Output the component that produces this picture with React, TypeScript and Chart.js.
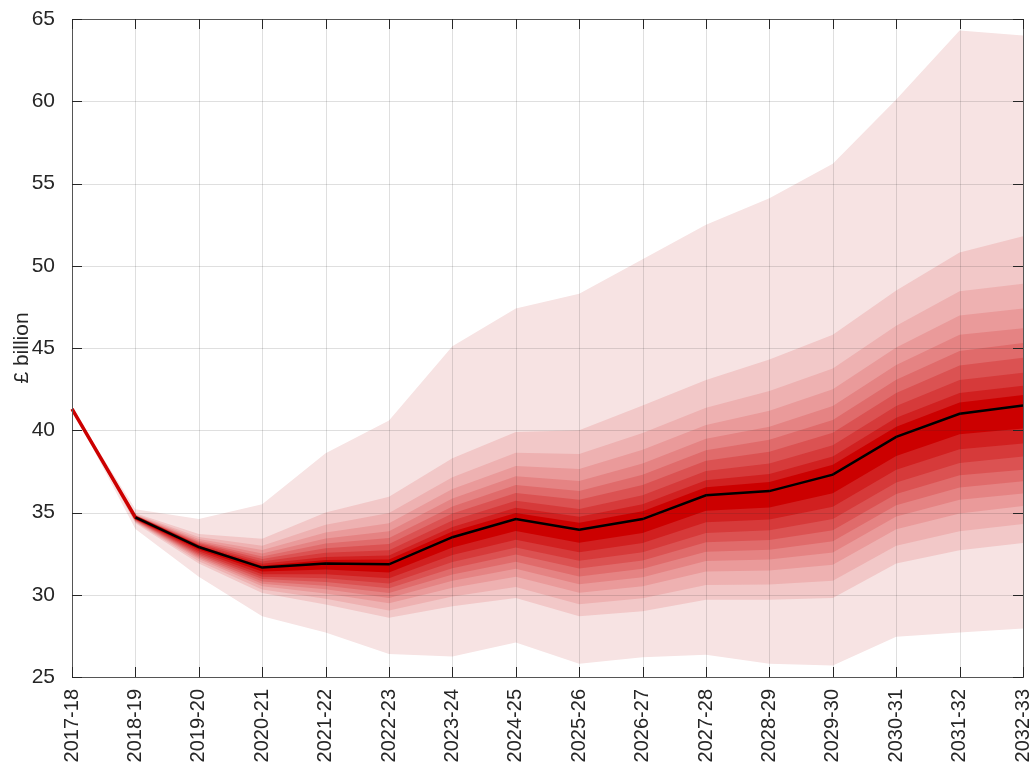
import React, { useEffect, useRef } from 'react';
import { Chart, registerables } from 'chart.js';

Chart.register(...registerables);

const years = ['2017-18', '2018-19', '2019-20', '2020-21', '2021-22', '2022-23', '2023-24', '2024-25', '2025-26', '2026-27', '2027-28', '2028-29', '2029-30', '2030-31', '2031-32', '2032-33'];

const outturn = [41.3, 34.7, 32.9, null, null, null, null, null, null, null, null, null, null, null, null, null];
const median = [null, 34.7, 32.9, 31.65, 31.9, 31.85, 33.5, 34.6, 33.95, 34.6, 36.05, 36.3, 37.3, 39.6, 41.0, 41.5];

// Upper band edges, outermost (hi1) to innermost (hi10)
const hi1 = [41.3, 35.2, 34.6, 35.5, 38.6, 40.6, 45.1, 47.4, 48.3, 50.4, 52.5, 54.1, 56.2, 60.1, 64.3, 64.0];
const hi2 = [41.3, 34.95, 33.7, 33.4, 35.0, 35.95, 38.3, 39.9, 40.0, 41.5, 43.05, 44.3, 45.8, 48.5, 50.8, 51.8];
const hi3 = [41.3, 34.89, 33.51, 32.98, 34.26, 34.97, 37.15, 38.63, 38.55, 39.84, 41.37, 42.38, 43.76, 46.36, 48.45, 48.9];
const hi4 = [41.3, 34.85, 33.39, 32.72, 33.79, 34.35, 36.43, 37.83, 37.64, 38.81, 40.32, 41.18, 42.49, 45.03, 46.98, 47.4];
const hi5 = [41.3, 34.82, 33.29, 32.51, 33.42, 33.86, 35.85, 37.2, 36.91, 37.98, 39.48, 40.22, 41.47, 43.96, 45.8, 46.2];
const hi6 = [41.3, 34.8, 33.21, 32.33, 33.11, 33.45, 35.37, 36.67, 36.31, 37.29, 38.78, 39.42, 40.62, 43.07, 44.82, 45.3];
const hi7 = [41.3, 34.78, 33.14, 32.18, 32.83, 33.08, 34.94, 36.19, 35.77, 36.67, 38.15, 38.7, 39.85, 42.27, 43.94, 44.4];
const hi8 = [41.3, 34.75, 33.07, 32.02, 32.55, 32.71, 34.51, 35.71, 35.22, 36.05, 37.52, 37.98, 39.09, 41.47, 43.06, 43.5];
const hi9 = [41.3, 34.73, 33.0, 31.88, 32.3, 32.38, 34.12, 35.29, 34.74, 35.5, 36.96, 37.34, 38.4, 40.76, 42.27, 42.7];
const hi10 = [41.3, 34.72, 32.96, 31.77, 32.12, 32.14, 33.84, 34.97, 34.37, 35.08, 36.54, 36.86, 37.9, 40.22, 41.69, 42.15];

// Lower band edges, outermost (lo1) to innermost (lo10)
const lo1 = [41.3, 34.0, 31.1, 28.7, 27.7, 26.4, 26.25, 27.1, 25.8, 26.2, 26.35, 25.8, 25.7, 27.45, 27.7, 27.95];
const lo2 = [41.3, 34.35, 31.9, 30.1, 29.4, 28.6, 29.3, 29.8, 28.7, 29.0, 29.7, 29.7, 29.8, 31.9, 32.7, 33.15];
const lo3 = [41.3, 34.4, 32.04, 30.32, 29.75, 29.05, 29.89, 30.47, 29.43, 29.78, 30.59, 30.62, 30.85, 32.98, 33.86, 34.3];
const lo4 = [41.3, 34.44, 32.17, 30.52, 30.08, 29.48, 30.43, 31.1, 30.12, 30.51, 31.41, 31.48, 31.82, 33.98, 34.94, 35.4];
const lo5 = [41.3, 34.48, 32.27, 30.67, 30.33, 29.8, 30.85, 31.58, 30.64, 31.07, 32.05, 32.14, 32.57, 34.75, 35.77, 36.15];
const lo6 = [41.3, 34.51, 32.36, 30.81, 30.55, 30.1, 31.23, 32.01, 31.11, 31.58, 32.62, 32.74, 33.25, 35.44, 36.52, 36.9];
const lo7 = [41.3, 34.54, 32.45, 30.95, 30.78, 30.39, 31.61, 32.44, 31.59, 32.08, 33.19, 33.33, 33.92, 36.13, 37.26, 37.6];
const lo8 = [41.3, 34.57, 32.54, 31.09, 31.0, 30.68, 31.99, 32.87, 32.06, 32.58, 33.76, 33.92, 34.6, 36.83, 38.01, 38.4];
const lo9 = [41.3, 34.61, 32.64, 31.25, 31.25, 31.0, 32.41, 33.35, 32.58, 33.14, 34.4, 34.58, 35.35, 37.6, 38.84, 39.2];
const lo10 = [41.3, 34.65, 32.75, 31.42, 31.53, 31.36, 32.87, 33.88, 33.16, 33.76, 35.1, 35.31, 36.17, 38.44, 39.75, 40.1];

const upperEdges = [hi1, hi2, hi3, hi4, hi5, hi6, hi7, hi8, hi9, hi10];
const lowerEdges = [lo1, lo2, lo3, lo4, lo5, lo6, lo7, lo8, lo9, lo10];
const bandColors = ['#f7e3e3', '#f2c8c8', '#eeb1b1', '#ea9a9a', '#e58383', '#e06b6b', '#db5252', '#d63a3a', '#d12020', '#cc0000'];

const yTicks = [25, 30, 35, 40, 45, 50, 55, 60, 65];
const yLabel = '£ billion';

const AXIS = '#262626';
const FONT = '"Liberation Sans", Arial, Helvetica, sans-serif';

const framePlugin = {
  id: 'matlabFrame',
  afterDatasetsDraw(chart: any) {
    const { ctx, chartArea, scales } = chart;
    const { left, right, top, bottom } = chartArea;
    const x = scales.x;
    const y = scales.y;
    ctx.save();
    ctx.strokeStyle = 'rgba(38,38,38,0.15)';
    ctx.lineWidth = 1;
    ctx.beginPath();
    x.ticks.forEach((_: any, i: number) => {
      const px = Math.round(x.getPixelForTick(i)) + 0.5;
      ctx.moveTo(px, top);
      ctx.lineTo(px, bottom);
    });
    y.ticks.forEach((_: any, i: number) => {
      const py = Math.round(y.getPixelForTick(i)) + 0.5;
      ctx.moveTo(left, py);
      ctx.lineTo(right, py);
    });
    ctx.stroke();
    ctx.strokeStyle = '#555555';
    ctx.lineWidth = 1;
    ctx.strokeRect(Math.round(left) + 0.5, Math.round(top) + 0.5, Math.round(right - left), Math.round(bottom - top));
    ctx.strokeStyle = AXIS;
    ctx.beginPath();
    const tl = 10;
    x.ticks.forEach((_: any, i: number) => {
      const px = Math.round(x.getPixelForTick(i)) + 0.5;
      ctx.moveTo(px, bottom);
      ctx.lineTo(px, bottom - tl);
      ctx.moveTo(px, top);
      ctx.lineTo(px, top + tl);
    });
    y.ticks.forEach((_: any, i: number) => {
      const py = Math.round(y.getPixelForTick(i)) + 0.5;
      ctx.moveTo(left, py);
      ctx.lineTo(left + tl, py);
      ctx.moveTo(right, py);
      ctx.lineTo(right - tl, py);
    });
    ctx.stroke();
    ctx.restore();
  },
};

export default function App() {
  const ref = useRef<HTMLCanvasElement>(null);

  useEffect(() => {
    if (!ref.current) return;
    const datasets: any[] = [];
    for (let k = 0; k < 10; k++) {
      datasets.push({
        label: 'upper' + (k + 1),
        data: upperEdges[k],
        borderWidth: 0,
        pointRadius: 0,
        backgroundColor: bandColors[k],
        borderColor: 'rgba(0,0,0,0)',
        fill: 2 * k + 1,
        order: 30 - k,
        tension: 0,
      });
      datasets.push({
        label: 'lower' + (k + 1),
        data: lowerEdges[k],
        borderWidth: 0,
        pointRadius: 0,
        borderColor: 'rgba(0,0,0,0)',
        fill: false,
        order: 30 - k,
        tension: 0,
      });
    }
    datasets.push({
      label: 'outturn',
      data: outturn,
      borderColor: '#cc0000',
      borderWidth: 3.5,
      pointRadius: 0,
      fill: false,
      order: 1,
    });
    datasets.push({
      label: 'median',
      data: median,
      borderColor: '#000000',
      borderWidth: 2.5,
      pointRadius: 0,
      fill: false,
      order: 0,
    });

    const chart = new Chart(ref.current, {
      type: 'line',
      data: { labels: years, datasets },
      options: {
        animation: false,
        responsive: false,
        maintainAspectRatio: false,
        layout: { padding: { top: 19, right: 11, left: 0, bottom: 0 } },
        plugins: {
          legend: { display: false },
          tooltip: { enabled: false },
          filler: { propagate: false },
        },
        scales: {
          x: {
            type: 'category',
            grid: { display: false },
            border: { display: false },
            ticks: {
              autoSkip: false,
              minRotation: 90,
              maxRotation: 90,
              color: AXIS,
              padding: 4,
              font: { family: FONT, size: 20 },
            },
            afterFit: (s: any) => {
              s.height = 85;
              s.paddingLeft = 0;
              s.paddingRight = 0;
            },
          },
          y: {
            min: 25,
            max: 65,
            grid: { display: false },
            border: { display: false },
            afterBuildTicks: (s: any) => {
              s.ticks = yTicks.map((v) => ({ value: v }));
            },
            ticks: {
              color: AXIS,
              padding: 9,
              font: { family: FONT, size: 21 },
            },
            title: {
              display: true,
              text: yLabel,
              color: AXIS,
              padding: { top: 10, bottom: 0 },
              font: { family: FONT, size: 21 },
            },
            afterFit: (s: any) => {
              s.width = 72;
              s.paddingTop = 0;
              s.paddingBottom = 0;
            },
          },
        },
      },
      plugins: [framePlugin],
    });
    return () => chart.destroy();
  }, []);

  return (
    <div style={{ position: 'absolute', left: 0, top: 0, width: 1034, height: 762, background: '#fff' }}>
      <canvas ref={ref} width={1034} height={762} style={{ display: 'block' }} />
    </div>
  );
}
